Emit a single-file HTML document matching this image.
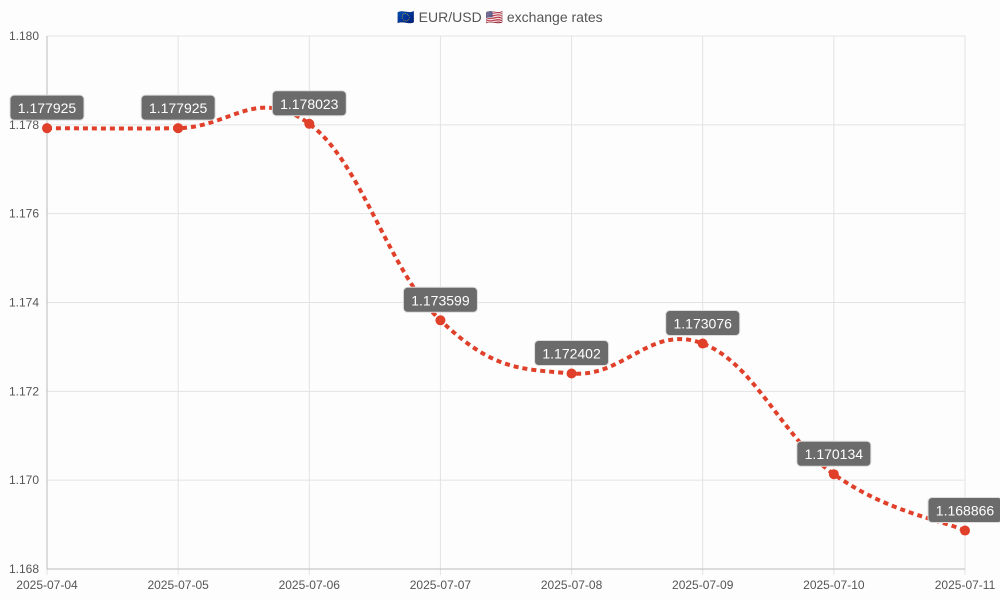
<!DOCTYPE html>
<html><head><meta charset="utf-8"><style>
body{margin:0;background:#fdfdfd;font-family:"Liberation Sans",sans-serif}
svg{display:block}
</style></head><body>
<svg id="c" width="1000" height="600">
<text x="500" y="22" text-anchor="middle" font-size="14" fill="#555">🇪🇺 EUR/USD 🇺🇸 exchange rates</text>
<g id="grid"></g><g id="line"></g><g id="pts"></g><g id="labels"></g>
</svg>
<script>
const categories=["2025-07-04","2025-07-05","2025-07-06","2025-07-07","2025-07-08","2025-07-09","2025-07-10","2025-07-11"];
const values=[1.177925,1.177925,1.178023,1.173599,1.172402,1.173076,1.170134,1.168866];
const yTicks=[1.168,1.170,1.172,1.174,1.176,1.178,1.180];
const NS="http://www.w3.org/2000/svg";
const X0=47,X1=965,Y0=569,Y1=36,ymin=1.168,ymax=1.180;
const xs=i=>X0+(X1-X0)*i/(categories.length-1);
const ys=v=>Y0-(v-ymin)/(ymax-ymin)*(Y0-Y1);
function mk(t,a,p){const e=document.createElementNS(NS,t);for(const k in a)e.setAttribute(k,a[k]);p.appendChild(e);return e;}
const g=document.getElementById('grid');
yTicks.forEach(v=>{const y=ys(v);
 const l=mk('line',{x1:X0,x2:X1,y1:y,y2:y,stroke:'#e3e3e3'},g);
 
 
 const t=mk('text',{x:X0-8,y:y+4,'text-anchor':'end','font-size':12,fill:'#555'},g);t.textContent=v.toFixed(3);
 
 
});
categories.forEach((c,i)=>{const x=xs(i);
 const l=mk('line',{x1:x,x2:x,y1:Y1,y2:Y0+6,stroke:'#e3e3e3'},g);
 
 
 const t=mk('text',{x:x,y:Y0+20,'text-anchor':'middle','font-size':12,fill:'#555'},g);t.textContent=c;
 
 
});
const ax=mk('line',{x1:X0,x2:X0,y1:Y1,y2:Y0,stroke:'#bbb'},g);


const ax2=mk('line',{x1:X0,x2:X1,y1:Y0,y2:Y0,stroke:'#bbb'},g);


const P=values.map((v,i)=>[xs(i),ys(v)]);
let d=`M${P[0][0]},${P[0][1]}`;const T=0.4;
for(let i=0;i<P.length-1;i++){const p0=P[Math.max(i-1,0)],p1=P[i],p2=P[i+1],p3=P[Math.min(i+2,P.length-1)];
 const c1=[p1[0]+(p2[0]-p0[0])*T/2,p1[1]+(p2[1]-p0[1])*T/2],c2=[p2[0]-(p3[0]-p1[0])*T/2,p2[1]-(p3[1]-p1[1])*T/2];
 d+=` C${c1[0]},${c1[1]} ${c2[0]},${c2[1]} ${p2[0]},${p2[1]}`;}
const path=mk('path',{d:d,fill:'none',stroke:'#e0402a','stroke-width':4,'stroke-dasharray':'5,4'},document.getElementById('line'));


const pg=document.getElementById('pts'),lg=document.getElementById('labels');
values.forEach((v,i)=>{const [x,y]=P[i];
 const c=mk('circle',{cx:x,cy:y,r:5,fill:'#e0402a'},pg);
 
 
 const w=74,h=25;
 const r=mk('rect',{x:x-w/2,y:y-33,width:w,height:h,rx:4,fill:'#6b6b6b',stroke:'#ddd','stroke-width':1},lg);
 
 
 const t=mk('text',{x:x,y:y-15,'text-anchor':'middle','font-size':14,fill:'#fff'},lg);t.textContent=v.toFixed(6);
 
 
});
</script>
</body></html>
